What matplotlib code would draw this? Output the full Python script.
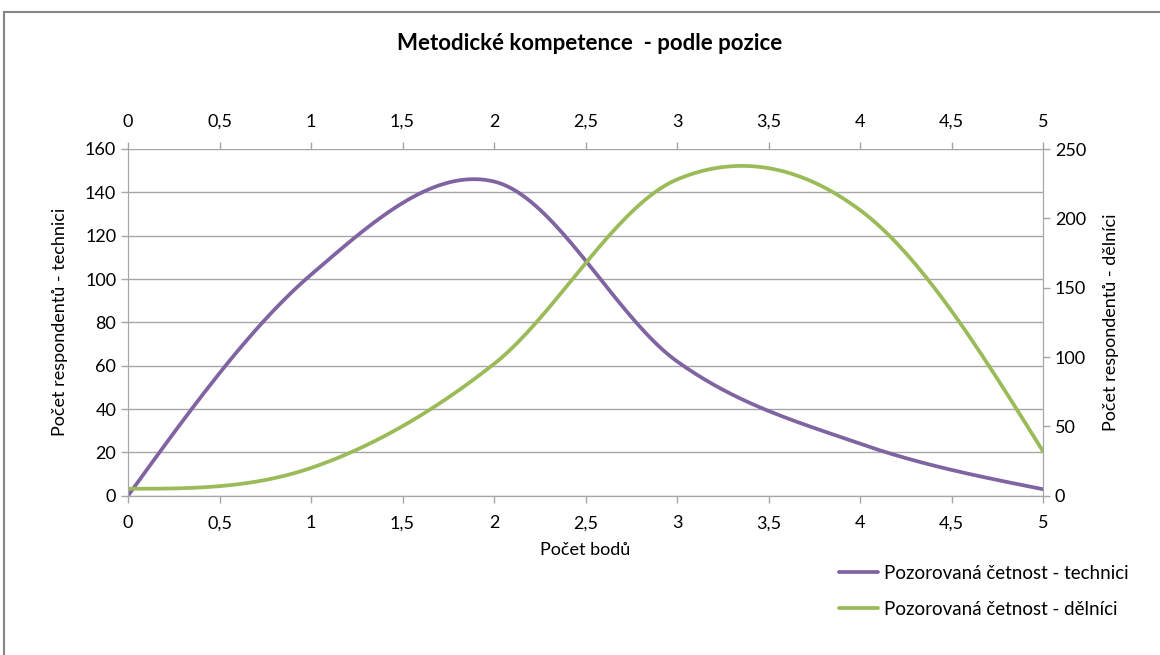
import matplotlib.pyplot as plt
import numpy as np
from matplotlib.ticker import FuncFormatter, MultipleLocator
from matplotlib.patches import Rectangle

plt.rcParams['font.family'] = ['Lato', 'DejaVu Sans']

# data
body = [0, 1, 2, 3, 4, 5]
technici = [0, 102, 145, 62, 24, 3]
delnici = [5, 20, 95, 228, 206, 32]

title = "Metodické kompetence  - podle pozice"
xlabel = "Počet bodů"
ylabel_left = "Počet respondentů - technici"
ylabel_right = "Počet respondentů - dělníci"
label_tech = "Pozorovaná četnost - technici"
label_del = "Pozorovaná četnost - dělníci"

PURPLE = '#8064A2'
GREEN = '#9BBB59'
GRID = '#a6a6a6'
FS = 13


def smooth(x, y, per_seg=40):
    """Excel-like smoothed line: Catmull-Rom tangents, parabolic ends."""
    x = np.asarray(x, float)
    y = np.asarray(y, float)
    n = len(x)
    m = np.zeros(n)
    for i in range(1, n - 1):
        m[i] = (y[i + 1] - y[i - 1]) / 2
    m[0] = (3 * (y[1] - y[0]) - m[1]) / 2
    m[-1] = (3 * (y[-1] - y[-2]) - m[-2]) / 2
    xs, ys = [], []
    for i in range(n - 1):
        t = np.linspace(0, 1, per_seg, endpoint=(i == n - 2))
        h00 = 2 * t**3 - 3 * t**2 + 1
        h10 = t**3 - 2 * t**2 + t
        h01 = -2 * t**3 + 3 * t**2
        h11 = t**3 - t**2
        xs.append(x[i] + t * (x[i + 1] - x[i]))
        ys.append(h00 * y[i] + h10 * m[i] + h01 * y[i + 1] + h11 * m[i + 1])
    return np.concatenate(xs), np.concatenate(ys)


def comma(v, pos):
    s = f"{v:g}"
    return s.replace('.', ',')


fig = plt.figure(figsize=(11.6, 6.55), dpi=100)
fig.patches.append(Rectangle((4 / 1160, -0.1), 1.2, 1 - 12 / 655 + 0.1,
                             transform=fig.transFigure, fill=False,
                             edgecolor='#868686', linewidth=1.5))

ax = fig.add_axes([128 / 1160, 1 - 495.7 / 655, (1043 - 128) / 1160, (495.7 - 149) / 655])
ax2 = ax.twinx()

sx, sy = smooth(body, technici)
l1, = ax.plot(sx, sy, color=PURPLE, linewidth=2.7, solid_capstyle='round', label=label_tech)
gx, gy = smooth(body, delnici)
l2, = ax2.plot(gx, gy, color=GREEN, linewidth=2.7, solid_capstyle='round', label=label_del)

ax.set_xlim(0, 5)
ax.set_ylim(0, 160)
ax2.set_ylim(0, 250)
ax.xaxis.set_major_locator(MultipleLocator(0.5))
ax.xaxis.set_major_formatter(FuncFormatter(comma))
ax.yaxis.set_major_locator(MultipleLocator(20))
ax2.yaxis.set_major_locator(MultipleLocator(50))

ax.grid(axis='y', color=GRID, linewidth=1)
ax.set_axisbelow(True)

for a in (ax, ax2):
    for sp in a.spines.values():
        sp.set_color(GRID)
    a.spines['top'].set_visible(False)
    a.tick_params(colors=GRID, labelcolor='black', labelsize=FS, length=5, width=1)
ax.tick_params(axis='x', pad=9)

top = ax.secondary_xaxis('top')
top.xaxis.set_major_locator(MultipleLocator(0.5))
top.xaxis.set_major_formatter(FuncFormatter(comma))
top.spines['top'].set_visible(False)
top.tick_params(colors=GRID, labelcolor='black', labelsize=FS, length=5, width=1, pad=9)

ax.set_xlabel(xlabel, fontsize=FS, labelpad=8)
ax.set_ylabel(ylabel_left, fontsize=FS, labelpad=12)
ax2.set_ylabel(ylabel_right, fontsize=FS, labelpad=12, rotation=90)

fig.text(590 / 1160, 1 - 44 / 655, title, ha='center', va='center',
         fontsize=16, fontweight='bold')

fig.legend([l1, l2], [label_tech, label_del], loc='upper left',
           bbox_to_anchor=(822 / 1160, 1 - 548 / 655), frameon=False,
           fontsize=13.5, handlelength=2.1, handletextpad=0.3, labelspacing=1.0)

fig.savefig('out.png', dpi=100)
